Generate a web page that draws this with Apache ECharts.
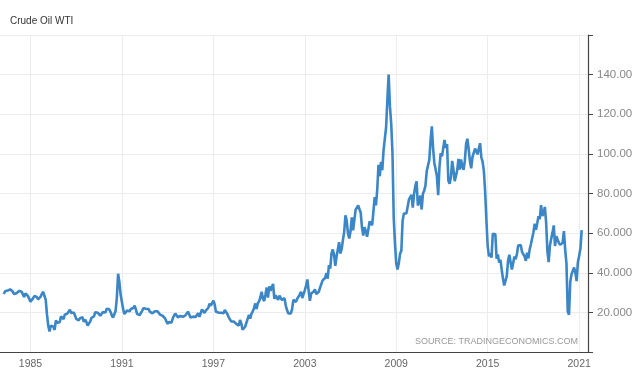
<!DOCTYPE html>
<html>
<head>
<meta charset="utf-8">
<script src="https://cdn.jsdelivr.net/npm/echarts@6/dist/echarts.min.js"></script>
<style>
html,body{margin:0;padding:0;background:#fff;}
#chart{width:640px;height:375px;}
</style>
</head>
<body>
<div id="chart"></div>
<script>
// Monthly closing prices, USD/bbl, starting March 1983
const startYear = 1983;
const startMonth = 3;
const prices1983_1990 = [
  29.27,30.63,30.96,31.00,31.72,31.65,30.81,30.51,29.28,29.60,
  29.66,30.43,30.82,30.49,30.47,29.76,27.75,29.56,29.65,28.25,27.94,25.43,
  25.63,27.06,28.24,27.38,27.73,26.60,27.34,27.97,29.36,30.38,30.78,26.30,
  18.83,13.26,10.42,13.34,14.30,12.78,11.15,15.90,14.77,15.27,15.00,17.94,
  18.75,16.60,18.83,18.73,19.38,20.29,21.37,19.73,19.59,19.96,18.51,16.70,
  16.94,16.01,17.08,17.99,17.51,15.16,16.31,15.18,13.37,13.58,15.32,17.24,
  18.02,17.94,20.12,20.05,19.78,20.27,18.31,18.83,20.13,19.94,19.89,21.82,
  22.68,21.54,20.28,18.54,17.40,17.07,20.69,27.32,39.51,35.23,28.85,28.44
];
const prices1991_1998 = [
  21.54,19.16,19.63,20.96,21.13,20.56,21.68,22.26,22.23,23.37,21.48,19.12,
  18.90,18.68,19.44,20.85,22.11,22.36,21.78,21.34,21.69,20.34,19.41,19.50,
  20.26,20.60,20.44,20.53,20.02,18.85,17.88,18.29,18.79,16.92,15.43,14.17,
  15.19,14.48,14.79,16.90,18.31,19.37,20.30,17.56,18.39,18.19,18.05,17.76,
  18.39,18.49,19.17,20.38,18.89,17.40,17.56,17.84,17.54,17.64,18.18,19.55,
  17.74,19.54,21.47,21.20,19.76,20.92,20.42,22.25,24.38,23.35,23.75,25.92,
  24.15,20.30,20.41,19.89,20.88,19.80,20.14,19.61,21.18,21.08,19.15,17.64,
  17.21,15.44,15.61,15.39,15.20,14.18,14.21,13.34,16.14,14.42,11.22,12.05
];
const prices1999_2006 = [
  12.75,12.27,16.76,18.66,16.84,19.29,20.53,22.11,24.51,21.75,24.59,25.60,
  27.64,30.43,26.90,25.74,29.01,32.50,27.43,33.12,30.84,32.70,34.40,26.80,
  28.66,27.39,26.29,28.46,28.37,26.25,26.35,27.20,23.43,21.18,19.44,19.84,
  19.48,21.74,26.31,27.29,25.31,26.86,27.02,28.98,30.45,27.22,26.89,31.20,
  33.51,36.60,31.04,25.80,29.56,30.19,30.54,31.57,29.20,29.11,30.41,32.52,
  33.05,36.16,35.76,37.38,39.88,37.05,43.80,42.12,49.64,51.76,49.13,43.45,
  48.20,51.75,55.40,49.72,51.97,56.50,60.57,68.94,66.24,59.76,57.32,61.04,
  67.92,61.41,66.63,71.88,71.29,73.93,74.40,70.26,62.91,58.73,62.97,61.05
];
const prices2007_2014 = [
  58.14,61.79,65.87,65.71,64.01,70.68,78.21,74.04,81.66,94.53,88.71,95.98,
  91.75,101.84,101.58,113.46,127.35,140.00,124.08,115.46,100.64,67.81,54.43,44.60,
  41.68,44.76,49.66,51.12,66.31,69.89,69.45,69.96,70.61,77.00,77.28,79.36,
  72.89,79.66,83.76,86.15,73.97,75.63,78.95,71.92,79.97,81.43,84.11,91.38,
  92.19,96.97,106.72,113.93,102.70,95.42,95.70,88.81,79.20,93.19,100.36,98.83,
  98.48,107.07,103.02,104.87,86.53,84.96,88.06,96.47,92.19,86.24,88.91,91.82,
  97.49,92.05,97.23,93.46,91.97,96.56,105.03,107.65,102.33,96.38,92.72,98.42,
  97.49,102.59,101.58,99.74,102.71,105.37,98.17,95.96,91.16,80.54,66.15,53.27
];
const prices2015_2021 = [
  48.24,49.76,47.60,59.63,60.30,59.47,47.12,49.20,45.09,46.59,41.65,37.04,
  33.62,33.75,38.34,45.92,49.10,48.33,41.60,44.70,48.24,46.86,49.44,53.72,
  52.81,54.01,50.60,49.33,48.32,46.04,50.17,47.23,51.67,54.38,57.40,60.42,
  64.73,61.64,64.94,68.57,67.04,74.15,68.76,69.80,73.25,65.31,50.93,45.41,
  53.79,57.22,60.14,63.91,53.50,58.47,58.58,55.10,54.07,54.18,55.17,61.06,
  51.56,44.76,20.48,18.84,35.49,39.27,40.27,42.61,40.22,35.79,45.34,48.52,
  52.20,61.50
];
const xTickYears = [1985, 1991, 1997, 2003, 2009, 2015, 2021];
const yTicks = [0, 20, 40, 60, 80, 100, 120, 140, 160];

const prices = [].concat(prices1983_1990, prices1991_1998, prices1999_2006, prices2007_2014, prices2015_2021);
const seriesData = prices.map((v, i) => [startYear + (startMonth + i) / 12, v]);

const chart = echarts.init(document.getElementById('chart'), null, {renderer: 'canvas'});
const font = 'Arial, "Liberation Sans", sans-serif';
chart.setOption({
  animation: false,
  backgroundColor: '#ffffff',
  title: {
    text: 'Crude Oil WTI',
    left: 10, top: 16, padding: 0,
    textStyle: {fontFamily: font, fontSize: 10, fontWeight: 'normal', color: '#333'}
  },
  graphic: [{
    type: 'text', right: 62, top: 337, z: 100,
    style: {text: 'SOURCE: TRADINGECONOMICS.COM', fontFamily: font, fontSize: 9, fill: '#999'}
  }],
  grid: {left: 0, right: 52, top: 35, bottom: 23},
  xAxis: {
    type: 'value', min: 1983.0, max: 2021.58,
    axisLine: {show: true, onZero: false, lineStyle: {color: '#444', width: 1.2}},
    axisTick: {show: false, customValues: xTickYears},
    axisLabel: {customValues: xTickYears, color: '#666', fontFamily: font, fontSize: 10.5, margin: 7,
      formatter: v => String(v)},
    splitLine: {show: true, lineStyle: {color: '#ececec', width: 1}}
  },
  yAxis: {
    type: 'value', position: 'right', min: 0, max: 160, interval: 20,
    axisLine: {show: true, lineStyle: {color: '#444', width: 1.2}},
    axisTick: {show: true, length: 5, lineStyle: {color: '#444'}},
    axisLabel: {
      color: '#888', fontFamily: font, fontSize: 11.5, margin: 9,
      formatter: v => (v === yTicks[0] || v === yTicks[yTicks.length - 1]) ? '' : v.toPrecision(5)
    },
    splitLine: {show: true, lineStyle: {color: '#ececec', width: 1}}
  },
  series: [{
    type: 'line', data: seriesData, showSymbol: false,
    lineStyle: {color: '#3b86c6', width: 2.6},
    itemStyle: {color: '#3b86c6'}
  }]
});
</script>
</body>
</html>
